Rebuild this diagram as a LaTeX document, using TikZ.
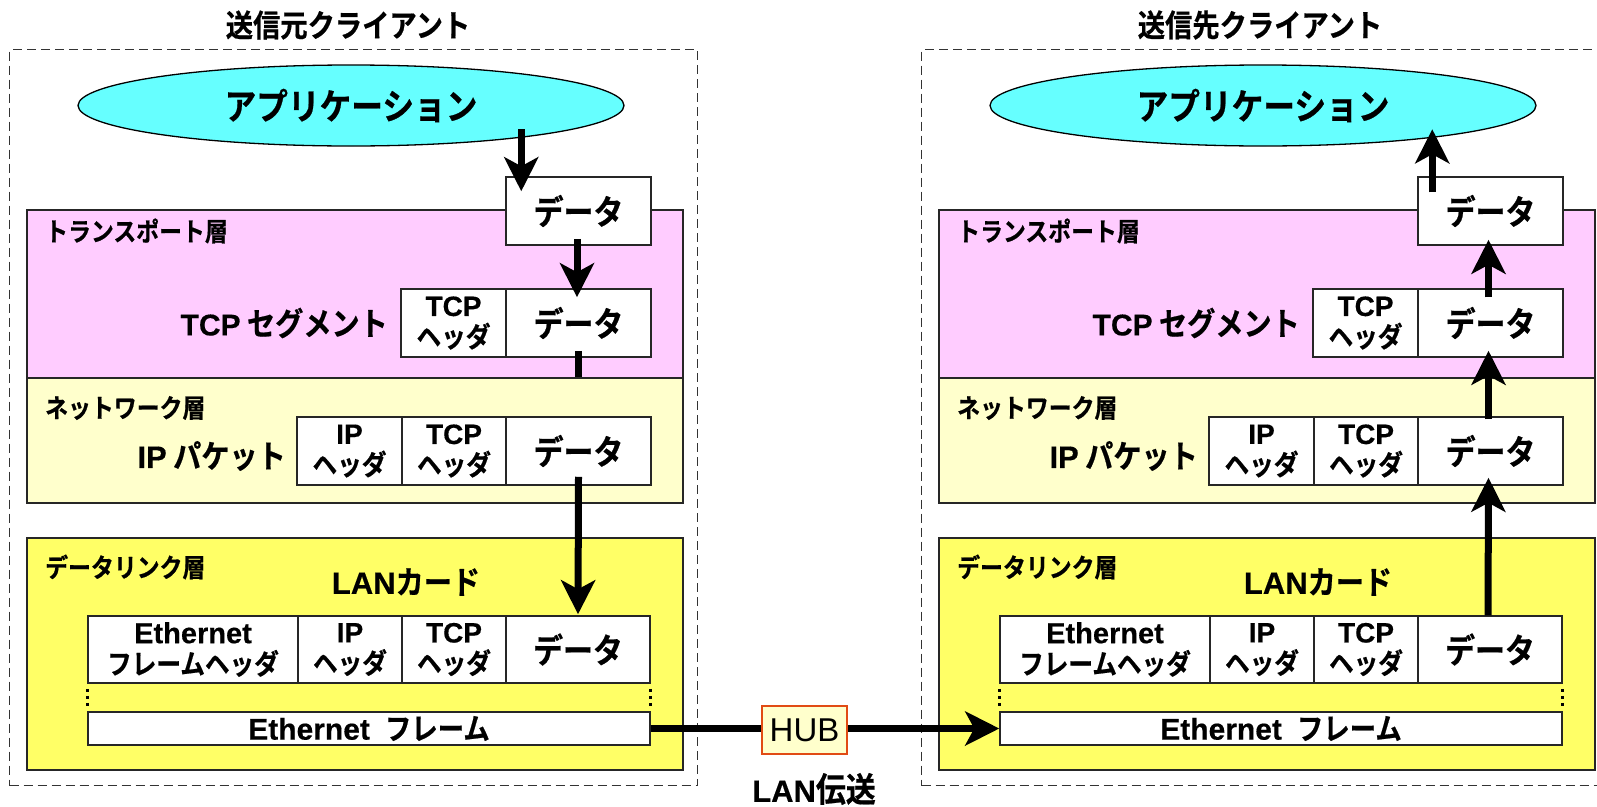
\documentclass[tikz,border=0pt]{standalone}
\usepackage{fontspec}
\setmainfont{Noto Sans CJK JP}
\newfontfamily\jp{Noto Sans CJK JP Bold}[FakeStretch=0.88, FakeBold=0.6]
\newfontfamily\lat{Liberation Sans}[FakeBold=0.4]
\newfontfamily\hubfont{Liberation Sans}
\newcommand{\lt}[2]{{\lat\bfseries\fontsize{#1}{#1}\selectfont #2}}
\usetikzlibrary{arrows.meta,shapes.geometric,calc}
\definecolor{appcyan}{HTML}{66FFFF}
\definecolor{transpink}{HTML}{FFCCFF}
\definecolor{netyellow}{HTML}{FFFFCC}
\definecolor{linkyellow}{HTML}{FFFF66}
\definecolor{hubborder}{RGB}{225,75,20}
\tikzset{
  cell/.style={draw=black!85, line width=1.5pt, fill=white, inner sep=0pt, align=center,
    minimum height=68pt, font=\jp\fontsize{34}{34}\selectfont},
  hcell/.style={cell, font=\jp\fontsize{28}{31}\selectfont},
  layerbox/.style={draw=black!85, line width=1.8pt, inner sep=0pt, anchor=north west, minimum width=656pt},
  clientbox/.style={draw=black!80, line width=1.4pt, dash pattern=on 9pt off 5pt, inner sep=0pt,
    anchor=north west, minimum width=688pt, minimum height=736pt},
  titletext/.style={font=\jp\fontsize{31}{32}\selectfont},
  layerlabel/.style={anchor=west, inner sep=0pt, font=\jp\fontsize{26}{26}\selectfont},
  rowlabel/.style={anchor=east, inner sep=0pt, font=\jp\fontsize{32}{32}\selectfont},
  dotline/.style={line width=3pt, dash pattern=on 3pt off 4pt},
  arr/.style={line width=7pt, -{Stealth[length=34pt, width=34pt, inset=9pt]}},
}
\newcommand{\clientside}[3]{%
\begin{scope}[xshift=#2pt]
  \node[clientbox] (#1client) at (9,49) {};
  \node[titletext] (#1title) at (348,25) {#3};
  \node[ellipse, draw=black, line width=1.3pt, fill=appcyan, inner sep=0pt,
        minimum width=546pt, minimum height=81pt,
        font=\jp\fontsize{36}{36}\selectfont] (#1app) at (351,105.5) {アプリケーション};
  \node[layerbox, fill=transpink, minimum height=168pt] (#1trans) at (26,209) {};
  \node[layerbox, fill=netyellow, minimum height=125pt] (#1net) at (26,377) {};
  \node[layerbox, fill=linkyellow, minimum height=232pt] (#1link) at (26,537) {};
  \node[cell, minimum width=145pt] (#1topdata) at (578.5,211) {データ};
  \node[layerlabel] (#1translabel) at (45,231) {トランスポート層};
  \node[layerlabel] (#1netlabel) at (45,408) {ネットワーク層};
  \node[layerlabel] (#1linklabel) at (45,567) {データリンク層};
  \node[rowlabel] (#1seglabel) at (388,323) {\lt{30}{TCP} セグメント};
  \node[rowlabel] (#1pktlabel) at (286,456) {\lt{31}{IP} パケット};
  \node[font=\jp\fontsize{32}{32}\selectfont, inner sep=0pt] (#1lan) at (406,582) {\lt{31}{LAN}カード};
  % TCP segment
  \node[hcell, minimum width=105pt] (#1segtcp) at (453.5,323) {\lt{28}{TCP}\\ヘッダ};
  \node[cell, minimum width=145pt] (#1segdata) at (578.5,323) {データ};
  % IP packet
  \node[hcell, minimum width=105pt] (#1ipip) at (349.5,451) {\lt{28}{IP}\\ヘッダ};
  \node[hcell, minimum width=104pt] (#1iptcp) at (454,451) {\lt{28}{TCP}\\ヘッダ};
  \node[cell, minimum width=145pt] (#1ipdata) at (578.5,451) {データ};
  % Ethernet frame
  \node[hcell, minimum width=210pt, minimum height=67pt] (#1freth) at (193,649.5) {\lt{29}{Ethernet}\\フレームヘッダ};
  \node[hcell, minimum width=104pt, minimum height=67pt] (#1frip) at (350,649.5) {\lt{28}{IP}\\ヘッダ};
  \node[hcell, minimum width=104pt, minimum height=67pt] (#1frtcp) at (454,649.5) {\lt{28}{TCP}\\ヘッダ};
  \node[cell, minimum width=144pt, minimum height=67pt] (#1frdata) at (578,649.5) {データ};
  \node[cell, minimum width=562pt, minimum height=33pt, font=\jp\fontsize{30}{30}\selectfont]
       (#1bar) at (369,728.5) {\lt{30}{Ethernet}\hspace{0.5em}フレーム};
  \draw[dotline] ([yshift=-5pt]#1freth.south west) -- ([yshift=5pt]#1bar.north west);
  \draw[dotline] ([yshift=-5pt]#1frdata.south east) -- ([yshift=5pt]#1bar.north east);
\end{scope}}
\begin{document}
\begin{tikzpicture}[x=1pt, y=-1pt]
  \useasboundingbox (0,0) rectangle (1597,806);
  \clientside{L}{0}{送信元クライアント}
  \clientside{R}{912}{送信先クライアント}
  % sending side: downward
  \draw[arr] ([xshift=16pt, yshift=47pt]Ltopdata.north west) -- ([xshift=16pt, yshift=-15pt]Ltopdata.north west);
  \draw[arr] ([xshift=-1.5pt, yshift=7pt]Ltopdata.south) -- ([xshift=-1.5pt, yshift=-9pt]Lsegdata.north);
  \draw[line width=7pt] ([yshift=7pt]Lsegdata.south) -- (Lsegdata.south |- Lnet.north);
  \draw[arr] ([yshift=9pt]Lipdata.south) -- ([yshift=1pt]Lfrdata.north);
  % receiving side: upward
  \draw[arr] ([xshift=-2pt]Rfrdata.north) -- ([xshift=-2pt, yshift=8pt]Ripdata.south);
  \draw[arr] ([xshift=-2pt, yshift=-3pt]Ripdata.north) -- ([xshift=-2pt, yshift=7pt]Rsegdata.south);
  \draw[arr] ([xshift=-2pt, yshift=-9pt]Rsegdata.north) -- ([xshift=-2pt, yshift=6pt]Rtopdata.south);
  \draw[arr] ([xshift=15pt, yshift=-16pt]Rtopdata.north west) -- ([xshift=15pt, yshift=47pt]Rtopdata.north west);
  % LAN transmission
  \draw[arr] (Lbar.east) -- (Rbar.west);
  \node[draw=hubborder, line width=2pt, fill=netyellow, inner sep=0pt,
        minimum width=85pt, minimum height=48pt,
        font=\hubfont\fontsize{33}{36}\selectfont] (hub) at (804.5,730) {HUB};
  \node[font=\jp\fontsize{34}{34}\selectfont, inner sep=0pt] (lantx) at (814,789) {\lt{31}{LAN}伝送};
\end{tikzpicture}
\end{document}
